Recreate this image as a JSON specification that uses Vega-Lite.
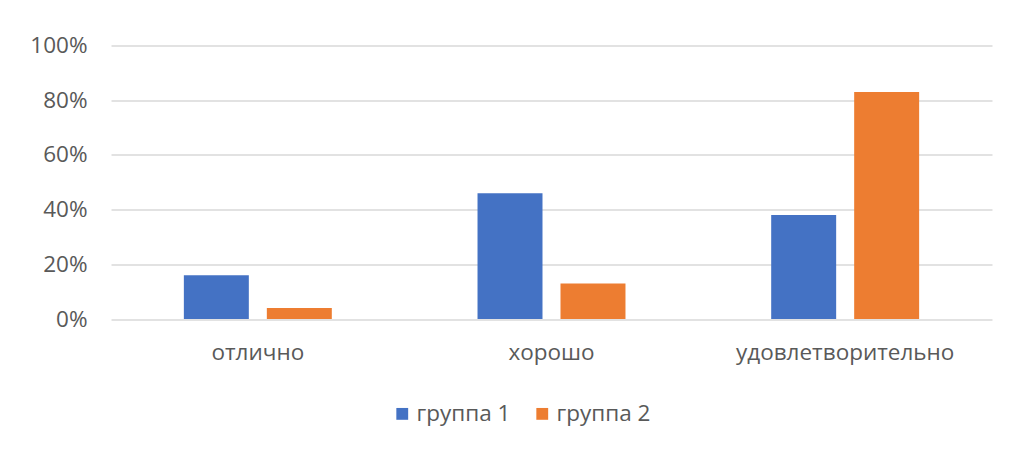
{
  "$schema": "https://vega.github.io/schema/vega-lite/v6.json",
  "width": 881,
  "height": 273.5,
  "autosize": "none",
  "padding": {"left": 111, "top": 45.5, "right": 20, "bottom": 133},
  "background": "white",
  "data": {"values": [
    {"cat": "отлично", "group": "группа 1", "value": 0.16},
    {"cat": "отлично", "group": "группа 2", "value": 0.04},
    {"cat": "хорошо", "group": "группа 1", "value": 0.46},
    {"cat": "хорошо", "group": "группа 2", "value": 0.13},
    {"cat": "удовлетворительно", "group": "группа 1", "value": 0.38},
    {"cat": "удовлетворительно", "group": "группа 2", "value": 0.83}
  ]},
  "mark": {"type": "bar"},
  "encoding": {
    "x": {"field": "cat", "type": "nominal", "sort": null,
      "scale": {"paddingInner": 0, "paddingOuter": 0},
      "axis": {"title": null, "labelAngle": 0, "domain": false, "ticks": false, "labelPadding": 22, "labelFontSize": 22.5, "labelLimit": 0, "labelColor": "#595959", "labelFont": "Open Sans"}},
    "xOffset": {"field": "group", "type": "nominal", "scale": {"paddingInner": 0.217, "paddingOuter": 0.878}},
    "y": {"field": "value", "type": "quantitative",
      "scale": {"domain": [0, 1], "nice": false},
      "axis": {"title": null, "format": ".0%", "values": [0, 0.2, 0.4, 0.6, 0.8, 1], "domain": false, "ticks": false, "labelPadding": 24, "labelFontSize": 22.5, "labelColor": "#595959", "labelFont": "Open Sans", "gridColor": "#d9d9d9", "gridWidth": 1.5}},
    "color": {"field": "group", "type": "nominal",
      "scale": {"domain": ["группа 1", "группа 2"], "range": ["#4472c4", "#ed7d31"]},
      "legend": {"title": null, "orient": "none", "legendX": 280, "legendY": 357, "direction": "horizontal", "symbolType": "square", "symbolSize": 140, "symbolStrokeWidth": 0, "labelFontSize": 22.5, "labelColor": "#595959", "labelFont": "Open Sans", "columnPadding": 20, "labelOffset": 3}}
  },
  "config": {"view": {"stroke": null}}
}
